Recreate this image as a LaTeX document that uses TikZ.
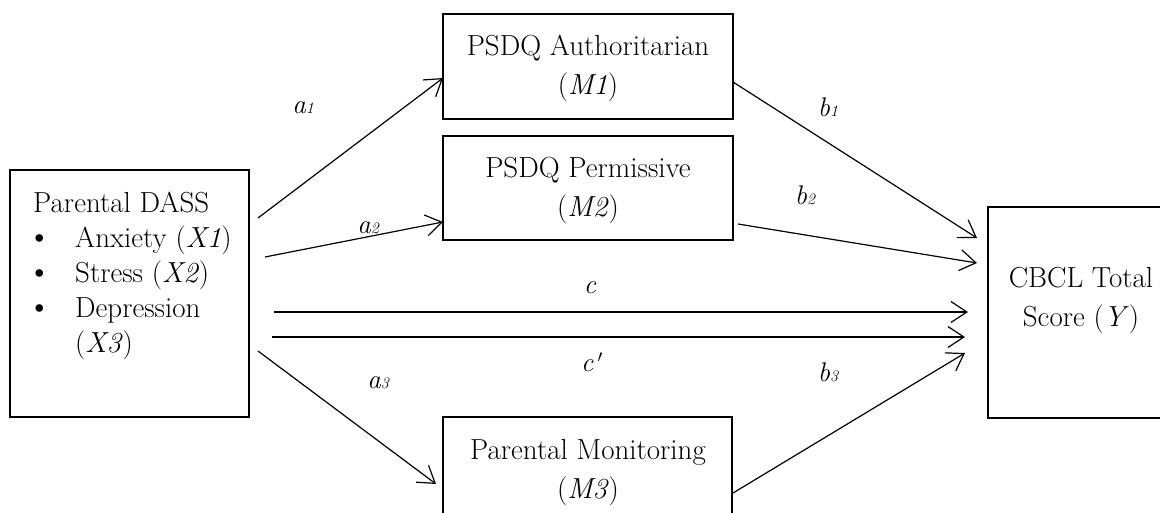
\documentclass[tikz,border=0pt]{standalone}
\usetikzlibrary{arrows.meta}
\newcommand{\smallidx}[1]{{\fontsize{16}{16}\selectfont #1}}
\newcommand{\bigbul}{\makebox[42pt][l]{\hspace{-6pt}\smash{\fontsize{34}{35}\selectfont\textbullet}}}
\begin{document}
\begin{tikzpicture}[x=1pt,y=-1pt,
  box/.style={draw, line width=1.2pt, inner sep=0pt, outer sep=0pt},
  txt/.style={inner sep=0pt, anchor=base, font=\fontsize{29}{40}\selectfont},
  ltxt/.style={inner sep=0pt, anchor=base west, font=\fontsize{29}{35}\selectfont},
  lab/.style={inner sep=0pt, font=\fontsize{27}{30}\selectfont\itshape},
  arr/.style={line width=1.2pt, -{Straight Barb[length=16pt,width=21pt,line width=1.2pt]}}]
\useasboundingbox (0,0) rectangle (1160,512);
\fill[white] (0,0) rectangle (1160,512);
% boxes
\node[box, minimum width=239pt, minimum height=247pt] (X) at (129.5,293.5) {};
\node[box, minimum width=290pt, minimum height=105pt] (M1) at (588,66.5) {};
\node[box, minimum width=290pt, minimum height=104pt] (M2) at (588,188) {};
\node[box, minimum width=289pt, minimum height=113pt] (M3) at (587.5,473.5) {};
\node[box, minimum width=192pt, minimum height=211pt] (Y) at (1084,312.5) {};
% texts
\node[ltxt] (x0) at (33,212) {Parental DASS};
\node[ltxt] (x1) at (33,247) {\bigbul Anxiety (\textit{X1})};
\node[ltxt] (x2) at (33,282) {\bigbul Stress (\textit{X2})};
\node[ltxt] (x3) at (33,317) {\bigbul Depression};
\node[ltxt] (x4) at (75,352) {(\textit{X3})};
\node[txt] (m1a) at (588,55) {PSDQ Authoritarian};
\node[txt] (m1b) at (588,94) {(\textit{M1})};
\node[txt] (m2a) at (588,177) {PSDQ Permissive};
\node[txt] (m2b) at (588,216) {(\textit{M2})};
\node[txt] (m3a) at (588,459) {Parental Monitoring};
\node[txt] (m3b) at (588,498) {(\textit{M3})};
\node[txt] (ya) at (1081,287) {CBCL Total};
\node[txt] (yb) at (1081,326) {Score (\textit{Y})};
% connectors
\draw[arr] ([shift={(9,48)}]X.north east) -- ([shift={(0,64)}]M1.north west);
\draw[arr] ([shift={(16,87)}]X.north east) -- ([shift={(0,86)}]M2.north west);
\draw[arr] ([shift={(25,142)}]X.north east) -- ([shift={(-20,105)}]Y.north west);
\draw[arr] ([shift={(23,167)}]X.north east) -- ([shift={(-23,130)}]Y.north west);
\draw[arr] ([shift={(9,181)}]X.north east) -- ([shift={(-7,67)}]M3.north west);
\draw[arr] ([shift={(0,68)}]M1.north east) -- ([shift={(-11,31)}]Y.north west);
\draw[arr] ([shift={(5,88)}]M2.north east) -- ([shift={(-11,56)}]Y.north west);
\draw[arr] ([shift={(1,76)}]M3.north east) -- ([shift={(-23,146)}]Y.north west);
% labels
\node[lab] (la1) at (303,108) {a\smallidx{1}};
\node[lab] (la2) at (368,228) {a\smallidx{2}};
\node[lab] (la3) at (378,383) {a\smallidx{3}};
\node[lab] (lc) at (590,288) {c};
\node[lab] (lcp) at (592,362) {c\,$'$};
\node[lab] (lb1) at (828,107) {b\smallidx{1}};
\node[lab] (lb2) at (805,195) {b\smallidx{2}};
\node[lab] (lb3) at (828,372) {b\smallidx{3}};
\end{tikzpicture}
\end{document}
